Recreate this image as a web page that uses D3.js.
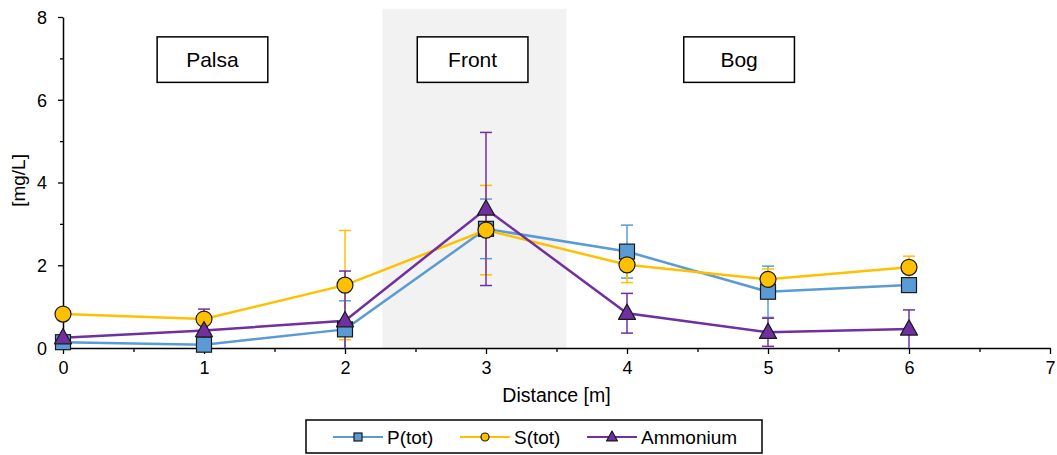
<!DOCTYPE html>
<html>
<head>
<meta charset="utf-8">
<script src="https://cdn.jsdelivr.net/npm/d3@7"></script>
<style>
  body { margin: 0; background: #fff; }
  svg { display: block; font-family: "Liberation Sans", Arial, sans-serif; }
</style>
</head>
<body>
<svg id="chart" width="1057" height="455"></svg>
<script>
// Distance along the transect [m]
const distance = [0, 1, 2, 3, 4, 5, 6];

// Concentrations [mg/L] and their error (±)
const pTot      = [0.14, 0.08, 0.45, 2.88, 2.33, 1.36, 1.52];
const pTotErr   = [0.00, 0.00, 0.69, 0.72, 0.64, 0.62, 0.16];
const sTot      = [0.82, 0.70, 1.52, 2.85, 2.01, 1.66, 1.95];
const sTotErr   = [0.00, 0.00, 1.32, 1.08, 0.43, 0.25, 0.27];
const ammonium  = [0.25, 0.42, 0.66, 3.36, 0.84, 0.38, 0.46];
const ammErr    = [0.00, 0.52, 1.20, 1.85, 0.48, 0.34, 0.46];

const seriesNames = ["P(tot)", "S(tot)", "Ammonium"];

// Zones along the transect
const zoneNames   = ["Palsa", "Front", "Bog"];
const zoneCenters = [1.06, 2.905, 4.795];
const frontSpan   = [2.265, 3.57];

const xTicks = [0, 1, 2, 3, 4, 5, 6, 7];
const yTicks = [0, 2, 4, 6, 8];

const svg = d3.select("#chart");
const margin = { left: 63, right: 7, top: 17, bottom: 107 };
const W = 1057, H = 455;

const x = d3.scaleLinear().domain([0, 7]).range([margin.left, W - margin.right]);
const y = d3.scaleLinear().domain([0, 8]).range([H - margin.bottom, margin.top]);

const colors = { "P(tot)": "#5b9bd5", "S(tot)": "#ffc000", "Ammonium": "#7030a0" };
const series = [
  { name: seriesNames[0], values: pTot,     err: pTotErr, shape: "square" },
  { name: seriesNames[1], values: sTot,     err: sTotErr, shape: "circle" },
  { name: seriesNames[2], values: ammonium, err: ammErr,  shape: "triangle" }
];

// Shaded front zone
svg.append("rect")
  .attr("x", x(frontSpan[0]))
  .attr("width", x(frontSpan[1]) - x(frontSpan[0]))
  .attr("y", y(8.2))
  .attr("height", y(0) - y(8.2))
  .attr("fill", "#f2f2f2");

// Axes
const xAxis = svg.append("g").attr("transform", `translate(0,${y(0)})`)
  .call(d3.axisBottom(x).tickValues(xTicks).tickFormat(d3.format("d")).tickSize(6).tickSizeOuter(0));
svg.append("g").attr("transform", `translate(0,${y(0)})`)
  .call(d3.axisBottom(x).tickValues(d3.range(0.5, 7, 1)).tickFormat("").tickSize(4).tickSizeOuter(0))
  .select(".domain").remove();
const yAxis = svg.append("g").attr("transform", `translate(${x(0)},0)`)
  .call(d3.axisLeft(y).tickValues(yTicks).tickFormat(d3.format("d")).tickSize(5).tickSizeOuter(0));
svg.append("g").attr("transform", `translate(${x(0)},0)`)
  .call(d3.axisLeft(y).tickValues([1, 3, 5, 7]).tickFormat("").tickSize(3).tickSizeOuter(0))
  .select(".domain").remove();

svg.selectAll(".domain").attr("stroke", "#000").attr("stroke-width", 1.5);
svg.selectAll(".tick line").attr("stroke", "#000").attr("stroke-width", 1.3);
xAxis.selectAll("text").attr("font-size", 18).attr("fill", "#000").attr("dy", "0.92em").attr("font-family", "Liberation Sans, Arial, sans-serif");
yAxis.selectAll("text").attr("font-size", 18).attr("fill", "#000").attr("dx", "-0.45em").attr("dy", "0.35em").attr("font-family", "Liberation Sans, Arial, sans-serif");

// Axis titles
svg.append("text").attr("x", x(3.5)).attr("y", 402).attr("text-anchor", "middle")
  .attr("font-size", 19.5).text("Distance [m]");
svg.append("text").attr("transform", `translate(25,${y(4.05)}) rotate(-90)`).attr("text-anchor", "middle")
  .attr("font-size", 19).text("[mg/L]");

// Zone label boxes
const boxW = x(0.785) - x(0), boxTop = y(7.52), boxBot = y(6.42);
zoneNames.forEach((name, i) => {
  const cx = x(zoneCenters[i]);
  svg.append("rect").attr("x", cx - boxW / 2).attr("y", boxTop).attr("width", boxW)
    .attr("height", boxBot - boxTop).attr("fill", "#fff").attr("stroke", "#000").attr("stroke-width", 1.5);
  svg.append("text").attr("x", cx).attr("y", (boxTop + boxBot) / 2).attr("dy", "0.36em")
    .attr("text-anchor", "middle").attr("font-size", 21).text(name);
});

// Lines
const line = d3.line().x((d, i) => x(distance[i])).y(d => y(d));
series.forEach(s => {
  svg.append("path").datum(s.values).attr("d", line).attr("fill", "none")
    .attr("stroke", colors[s.name]).attr("stroke-width", 2.5);
});

// Error bars (clipped at zero)
const cap = 6;
series.forEach(s => {
  const g = svg.append("g").attr("stroke", colors[s.name]).attr("stroke-width", 1.5);
  s.values.forEach((v, i) => {
    const e = s.err[i];
    if (!e) return;
    const cx = x(distance[i]);
    const hi = v + e, lo = Math.max(0, v - e);
    g.append("line").attr("x1", cx).attr("x2", cx).attr("y1", y(hi)).attr("y2", y(lo));
    g.append("line").attr("x1", cx - cap).attr("x2", cx + cap).attr("y1", y(hi)).attr("y2", y(hi));
    if (v - e > 0) g.append("line").attr("x1", cx - cap).attr("x2", cx + cap).attr("y1", y(lo)).attr("y2", y(lo));
  });
});

// Marker drawing
function marker(g, shape, cx, cy, size, color) {
  if (shape === "square") {
    g.append("rect").attr("x", cx - size / 2).attr("y", cy - size / 2).attr("width", size).attr("height", size)
      .attr("fill", color).attr("stroke", "#1a1a1a").attr("stroke-width", 1.2);
  } else if (shape === "circle") {
    g.append("circle").attr("cx", cx).attr("cy", cy).attr("r", size / 2)
      .attr("fill", color).attr("stroke", "#1a1a1a").attr("stroke-width", 1.2);
  } else {
    const w = size, h = size * 0.9;
    g.append("path")
      .attr("d", `M${cx},${cy - h * 0.6}L${cx + w / 2},${cy + h * 0.4}L${cx - w / 2},${cy + h * 0.4}Z`)
      .attr("fill", color).attr("stroke", "#1a1a1a").attr("stroke-width", 1.2).attr("stroke-linejoin", "round");
  }
}

const markerSizes = { square: 15, circle: 16, triangle: 17 };
series.forEach(s => {
  const g = svg.append("g");
  s.values.forEach((v, i) => marker(g, s.shape, x(distance[i]), y(v), markerSizes[s.shape], colors[s.name]));
});

// Legend
const legend = svg.append("g");
legend.append("rect").attr("x", 306).attr("y", 420).attr("width", 456).attr("height", 33)
  .attr("fill", "#fff").attr("stroke", "#000").attr("stroke-width", 1.5);
const legendX = [333, 460, 587];
const legendSizes = { square: 8, circle: 8, triangle: 11 };
series.forEach((s, i) => {
  const lx = legendX[i], ly = 437;
  legend.append("line").attr("x1", lx).attr("x2", lx + 50).attr("y1", ly).attr("y2", ly)
    .attr("stroke", colors[s.name]).attr("stroke-width", 2);
  marker(legend, s.shape, lx + 25, ly, legendSizes[s.shape], colors[s.name]);
  legend.append("text").attr("x", lx + 54).attr("y", ly).attr("dy", "0.36em")
    .attr("font-size", 19).text(s.name);
});
</script>
</body>
</html>
